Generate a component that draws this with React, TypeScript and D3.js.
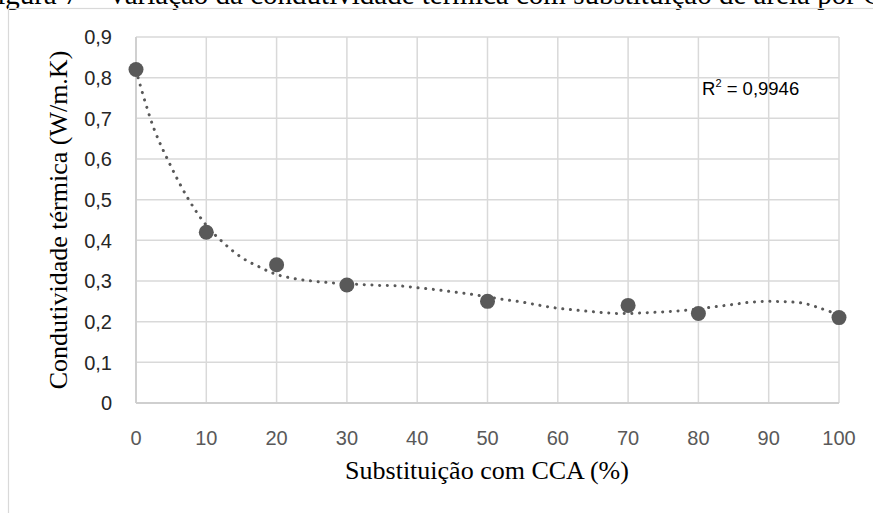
import React from "react";
import * as d3 from "d3";

const substitution = [0, 10, 20, 30, 50, 70, 80, 100];
const conductivity = [0.82, 0.42, 0.34, 0.29, 0.25, 0.24, 0.22, 0.21];
const xTicks = [0, 10, 20, 30, 40, 50, 60, 70, 80, 90, 100];
const yTicks = [0, 0.1, 0.2, 0.3, 0.4, 0.5, 0.6, 0.7, 0.8, 0.9];
// Polynomial trendline (Excel)
const trendX = [0, 2.5, 5, 7.5, 10, 12.5, 15, 17.5, 20, 22.5, 25, 27.5, 30, 32.5, 35, 37.5, 40, 42.5, 45, 47.5, 50, 52.5, 55, 57.5, 60, 62.5, 65, 67.5, 70, 72.5, 75, 77.5, 80, 82.5, 85, 87.5, 90, 92.5, 95, 97.5, 100];
const trendY = [0.818, 0.677, 0.581, 0.5, 0.437, 0.393, 0.358, 0.335, 0.316, 0.306, 0.3, 0.296, 0.293, 0.291, 0.289, 0.288, 0.2835, 0.279, 0.2735, 0.268, 0.261, 0.254, 0.248, 0.24, 0.233, 0.2285, 0.2245, 0.221, 0.22, 0.222, 0.224, 0.227, 0.2315, 0.237, 0.2425, 0.248, 0.25, 0.249, 0.245, 0.232, 0.217];
const r2Label = "0,9946";
const caption = "Figura 7 – Variação da condutividade térmica com substituição de areia por CCA";
const xTitle = "Substituição com CCA (%)";
const yTitle = "Condutividade térmica (W/m.K)";

export default function App() {
  const W = 873;
  const H = 513;
  const x = d3.scaleLinear().domain([0, 100]).range([136, 839]);
  const y = d3.scaleLinear().domain([0, 0.9]).range([403, 37]);

  const trend = trendX.map((v, i) => [v, trendY[i]] as [number, number]);
  const line = d3
    .line<[number, number]>()
    .x((d) => x(d[0]))
    .y((d) => y(d[1]))
    .curve(d3.curveCatmullRom.alpha(0.5));

  const grid = "#d9d9d9";
  const mark = "#595959";
  const sans = "'Liberation Sans', Arial, sans-serif";
  const serif = "'Liberation Serif', 'Times New Roman', serif";

  return (
    <svg width={W} height={H} style={{ position: "absolute", left: 0, top: 0, background: "#fff" }}>
      <rect x={0} y={0} width={W} height={H} fill="#fff" />
      <text x={-19} y={4} fontFamily={serif} fontSize={29} fill="#000">
        {caption}
      </text>
      <rect x={8.5} y={8.5} width={W + 20} height={H + 20} fill="none" stroke={grid} strokeWidth={1.2} />

      {yTicks.map((t) => (
        <line key={"gy" + t} x1={x(0)} x2={x(100)} y1={y(t)} y2={y(t)} stroke={grid} strokeWidth={1.5} />
      ))}
      {xTicks.map((t) => (
        <line key={"gx" + t} x1={x(t)} x2={x(t)} y1={y(0.9)} y2={y(0)} stroke={grid} strokeWidth={1.5} />
      ))}
      <line x1={x(0)} x2={x(100)} y1={y(0)} y2={y(0)} stroke="#cfcfcf" strokeWidth={1.8} />
      <line x1={x(0)} x2={x(0)} y1={y(0.9)} y2={y(0)} stroke="#cfcfcf" strokeWidth={1.8} />

      {yTicks.map((t) => (
        <text
          key={"ty" + t}
          x={112}
          y={y(t)}
          dy="0.36em"
          textAnchor="end"
          fontFamily={sans}
          fontSize={20}
          fill="#262626"
        >
          {t === 0 ? "0" : d3.format(".1f")(t).replace(".", ",")}
        </text>
      ))}
      {xTicks.map((t) => (
        <text
          key={"tx" + t}
          x={x(t)}
          y={445}
          textAnchor="middle"
          fontFamily={sans}
          fontSize={20}
          fill="#595959"
        >
          {t}
        </text>
      ))}

      <path
        d={line(trend) || ""}
        fill="none"
        stroke={mark}
        strokeWidth={3}
        strokeLinecap="round"
        strokeDasharray="0.1 7.6"
      />

      {substitution.map((v, i) => (
        <circle key={"p" + i} cx={x(v)} cy={y(conductivity[i])} r={7.5} fill={mark} />
      ))}

      <text x={702} y={95} fontFamily={sans} fontSize={18.5} fill="#000">
        R<tspan fontSize={11} dy={-8}>2</tspan>
        <tspan dy={8}> = {r2Label}</tspan>
      </text>

      <text x={487} y={479} textAnchor="middle" fontFamily={serif} fontSize={26} fill="#000">
        {xTitle}
      </text>
      <text
        transform={`translate(67, 220) rotate(-90)`}
        textAnchor="middle"
        fontFamily={serif}
        fontSize={26}
        fill="#000"
      >
        {yTitle}
      </text>
    </svg>
  );
}
